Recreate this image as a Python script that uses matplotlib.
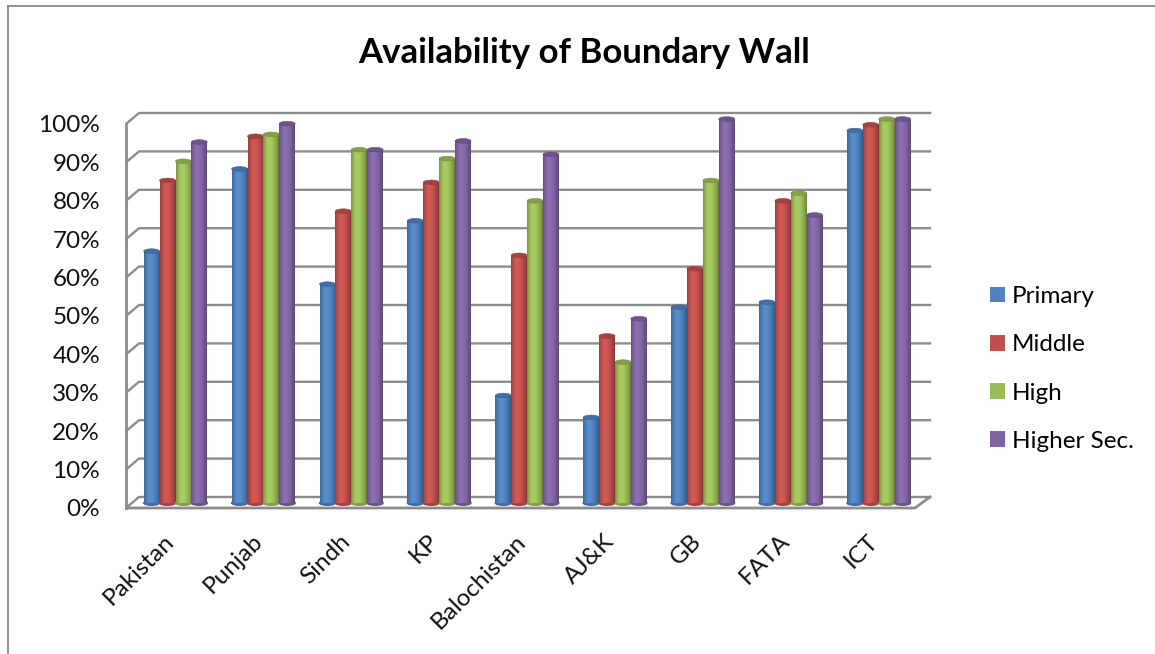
import numpy as np
import matplotlib
matplotlib.use("Agg")
import matplotlib.pyplot as plt
from matplotlib.colors import LinearSegmentedColormap, to_rgb
from matplotlib.patches import Ellipse, Patch
from matplotlib.transforms import ScaledTranslation

categories = ["Pakistan", "Punjab", "Sindh", "KP", "Balochistan", "AJ&K", "GB", "FATA", "ICT"]
primary = [65.6, 87, 57, 73.5, 28, 22.3, 51, 52.3, 97]
middle = [84, 95.5, 76, 83.5, 64.5, 43.5, 61, 78.7, 98.5]
high = [89, 96, 92, 89.7, 78.7, 36.7, 84, 80.7, 100]
higher_sec = [94, 98.8, 92, 94.3, 90.8, 48, 100, 75, 100]
series_names = ["Primary", "Middle", "High", "Higher Sec."]
series_colors = ["#4F81BD", "#C0504D", "#9BBB59", "#8064A2"]
pct_ticks = list(range(0, 101, 10))
pct_labels = [f"{p}%" for p in pct_ticks]

W, H = 1155, 654
FONT = "Lato"
GRAY = "#8C8C8C"
plt.rcParams["font.family"] = [FONT, "DejaVu Sans"]

fig = plt.figure(figsize=(W / 100, H / 100), dpi=100, facecolor="white")

# outer chart frame
fig.add_artist(plt.Line2D([7.5 / W, 7.5 / W], [0, 1 - 6 / H], color="#8A8A8A", lw=1.3))
fig.add_artist(plt.Line2D([7.5 / W, 1], [1 - 6 / H, 1 - 6 / H], color="#8A8A8A", lw=1.3))

# plot axes, pixel frame
px_l, px_r, px_t, px_b = 125, 932, 105, 515
ax = fig.add_axes([px_l / W, 1 - px_b / H, (px_r - px_l) / W, (px_b - px_t) / H])
ppu_x, x0 = 87.9, 175.5
ppu_y, y0 = 3.84, 503
ax.set_xlim((px_l - x0) / ppu_x, (px_r - x0) / ppu_x)
ax.set_ylim((y0 - px_b) / ppu_y, (y0 - px_t) / ppu_y)
for s in ax.spines.values():
    s.set_visible(False)
ax.patch.set_alpha(0)

# 3-D walls
back_dy = (y0 - 497) / ppu_y
front_dy = (y0 - 508) / ppu_y
x_front = (126 - x0) / ppu_x
x_back = (139 - x0) / ppu_x
x_back_r = (930 - x0) / ppu_x
x_front_r = (915 - x0) / ppu_x
for p in pct_ticks:
    ax.plot([x_front, x_back, x_back_r], [p + front_dy, p + back_dy, p + back_dy],
            color=GRAY, lw=1.7, zorder=1, solid_joinstyle="miter")
ax.plot([x_front, x_front], [front_dy, 100 + front_dy], color=GRAY, lw=2, zorder=1)
ax.plot([x_front, x_front_r, x_back_r], [front_dy, front_dy, back_dy], color=GRAY, lw=2, zorder=1)

# cylinders
bar_w = 15.9 / ppu_x
ell_h = 4.6 / ppu_y
profile = np.array([0.78, 0.96, 1.08, 1.10, 1.05, 0.97, 0.86, 0.68])
xp = np.linspace(0, 1, len(profile))
grad = np.interp(np.linspace(0, 1, 64), xp, profile)[None, :]
values = [primary, middle, high, higher_sec]
for j, (vals, col) in enumerate(zip(values, series_colors)):
    rgb = np.array(to_rgb(col))
    cmap = LinearSegmentedColormap.from_list(
        f"c{j}", [np.clip(rgb * f, 0, 1) for f in np.linspace(0.6, 1.15, 32)])
    xs = np.arange(len(categories)) + (j - 1.5) * bar_w
    bars = ax.bar(xs, vals, width=bar_w, color=col, zorder=3 + j * 0.1)
    for x, v, b in zip(xs, vals, bars):
        z = 3 + j * 0.1
        ax.add_patch(Ellipse((x, 0), bar_w, ell_h, color=tuple(rgb * 0.85), zorder=z - 0.01))
        ax.imshow(grad, cmap=cmap, vmin=0.6, vmax=1.15, aspect="auto",
                  extent=(x - bar_w / 2, x + bar_w / 2, 0, v), zorder=z + 0.01,
                  interpolation="bilinear")
        ax.add_patch(Ellipse((x, v), bar_w, ell_h, facecolor=tuple(rgb * 0.85),
                             edgecolor=tuple(rgb * 0.75), lw=0.4, zorder=z + 0.02))
ax.set_xlim((px_l - x0) / ppu_x, (px_r - x0) / ppu_x)
ax.set_ylim((y0 - px_b) / ppu_y, (y0 - px_t) / ppu_y)

# axes text
ax.set_yticks([p + front_dy for p in pct_ticks], pct_labels, fontsize=17.5, color="#111111")
ax.tick_params(axis="y", length=0, pad=18)
ax.set_xticks(np.arange(len(categories)), categories, fontsize=17.5, color="#111111",
              rotation=45, ha="right", rotation_mode="anchor")
ax.tick_params(axis="x", length=0, pad=11)
shift = ScaledTranslation(-12 / 100, 0, fig.dpi_scale_trans)
for lab in ax.get_xticklabels():
    lab.set_transform(lab.get_transform() + shift)

fig.text(584 / W, 1 - 53 / H, "Availability of Boundary Wall", fontsize=25,
         fontweight="bold", ha="center", va="center", color="black")

handles = [Patch(facecolor=c, edgecolor="none", label=n) for n, c in zip(series_names, series_colors)]
leg = fig.legend(handles=handles, loc="center left", bbox_to_anchor=(990 / W, 1 - 369 / H),
                 frameon=False, fontsize=17.5, labelspacing=1.12, handlelength=0.62,
                 handleheight=0.62, handletextpad=0.29, borderpad=0, borderaxespad=0)

fig.savefig("out.png", dpi=100, facecolor="white")
